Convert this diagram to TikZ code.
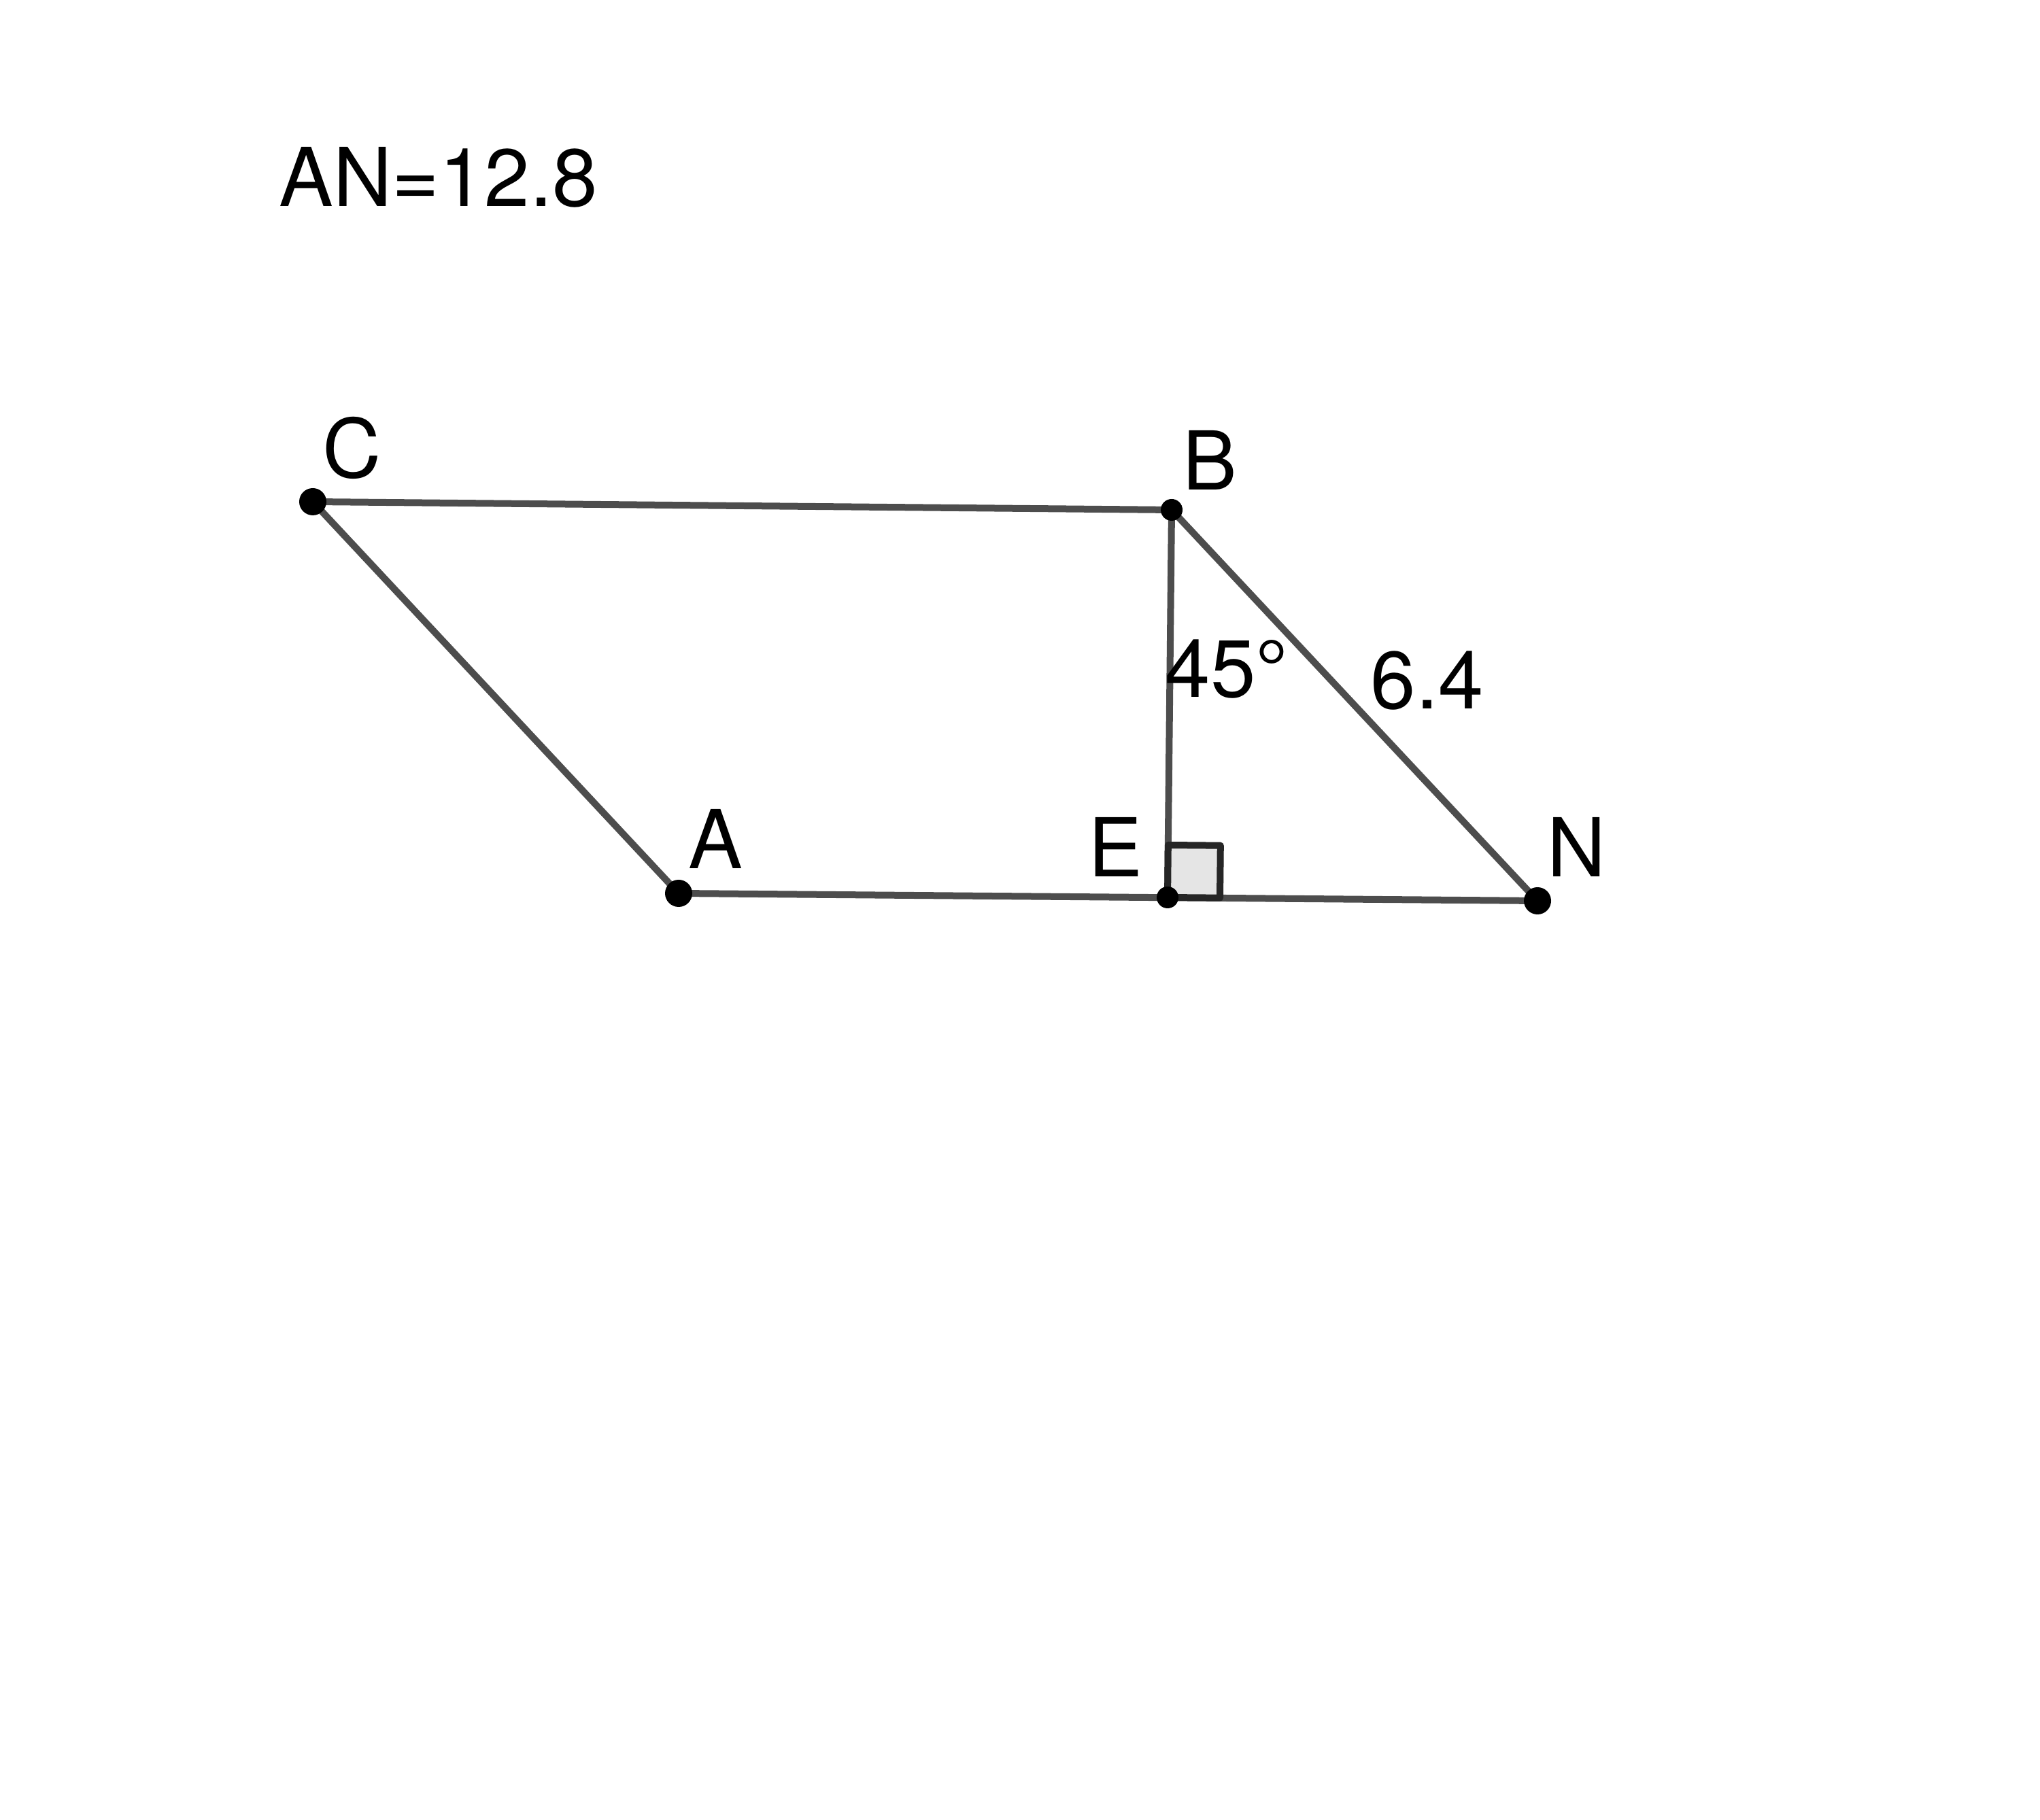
\documentclass[tikz,border=0pt]{standalone}
\usepackage{fontspec}
\setmainfont{TeX Gyre Heros}
\usetikzlibrary{calc}
\definecolor{segGray}{RGB}{77,77,77}
\definecolor{angFill}{RGB}{229,229,229}
\begin{document}
\begin{tikzpicture}
\tikzstyle{seg}=[draw=segGray, line width=1mm]
\tikzstyle{lbl}=[inner sep=0pt, font=\fontsize{34}{40}\selectfont]
\useasboundingbox (0,0) rectangle (30,26.76);
\coordinate (C) at (4.60, 19.38);
\coordinate (B) at (17.23, 19.26);
\coordinate (E) at (17.17, 13.56);
\coordinate (N) at (22.61, 13.51);
\coordinate (A) at (9.98, 13.62);
%% sides
\draw [seg] (C) -- (B);
\draw [seg] (C) -- (A);
\draw [seg] (A) -- (N);
\draw [seg] (B) -- (N);
\draw [seg] (B) -- (E);
%% right angle at E
\coordinate (Eb) at ($(E)!0.77cm!(B)$);
\coordinate (En) at ($(E)!0.77cm!(N)$);
\filldraw [fill=angFill, draw=black!85, line width=1mm, line join=round]
  (E) -- (En) -- ($(En)+(Eb)-(E)$) -- (Eb) -- cycle;
%% points
\fill (C) circle (0.20);
\fill (A) circle (0.20);
\fill (N) circle (0.20);
\fill (B) circle (0.16);
\fill (E) circle (0.16);
%% labels
\node [lbl] (Clbl) at (5.18, 20.17) {C};
\node [lbl] (Blbl) at (17.79, 19.99) {B};
\node [lbl] (Elbl) at (16.40, 14.30) {E};
\node [lbl] (Nlbl) at (23.19, 14.30) {N};
\node [lbl] (Albl) at (10.52, 14.42) {A};
\node [lbl, anchor=base west] (ang) at (17.13, 16.50) {45°};
\node [lbl, anchor=base west] (len) at (20.15, 16.33) {6.4};
\node [lbl, anchor=base west] (AN) at (4.10, 23.72) {AN=12.8};
\end{tikzpicture}
\end{document}
